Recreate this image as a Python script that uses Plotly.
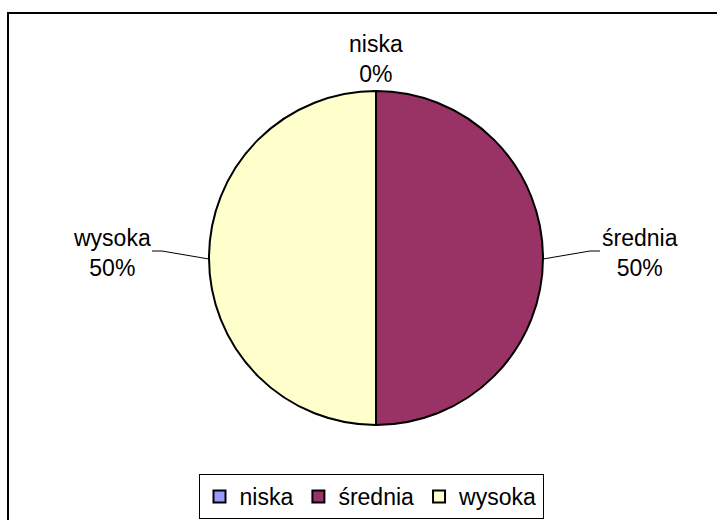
import math
import plotly.graph_objects as go

# ---- data ----
categories = ["niska", "średnia", "wysoka"]
values = [0, 50, 50]
colors = ["#9999FF", "#993366", "#FFFFCC"]

W, H = 717, 520
CX, CY, R = 376, 258, 167          # pie centre / radius in pixels
FONT = "Liberation Sans, Arial, sans-serif"

def px(x):
    return x / W

def py(y):
    return 1 - y / H

fig = go.Figure()
fig.add_trace(go.Pie(
    labels=categories, values=values, sort=False, direction="clockwise",
    rotation=0, textinfo="none", hoverinfo="label+percent",
    marker=dict(colors=colors, line=dict(color="black", width=2)),
    domain=dict(x=[px(CX - R), px(CX + R)], y=[py(CY + R), py(CY - R)]),
    showlegend=True,
))

# label placement (style)
label_extra = [32, 97, 97]
label_dy = [0, -5, -5]
leader = [False, True, True]

total = sum(values)
cum = 0
shapes = []
annotations = []
for lab, v, ex, dy, ld in zip(categories, values, label_extra, label_dy, leader):
    mid = (cum + v / 2) / total * 2 * math.pi
    cum += v
    sx, sy = math.sin(mid), -math.cos(mid)
    ex_x = CX + R * sx
    ex_y = CY + R * sy
    if abs(sx) < 0.5:
        lx, ly = CX + (R + ex) * sx, CY + (R + ex) * sy
    else:
        lx, ly = CX + (R + ex) * sx, CY + dy
    pct = round(v / total * 100)
    annotations.append(dict(
        x=px(lx), y=py(ly), xref="paper", yref="paper", showarrow=False,
        text=f"{lab}<br>{pct}%", font=dict(family=FONT, size=23, color="black"),
        align="center", xanchor="center", yanchor="middle"))
    if ld:
        bx = CX + (R + 47) * sx
        by = CY - 7
        tx = CX + (R + 57) * sx
        shapes.append(dict(type="path", xref="paper", yref="paper",
                           path=f"M {px(ex_x)} {py(ex_y + 1)} L {px(bx)} {py(by)} L {px(tx)} {py(by)}",
                           line=dict(color="black", width=1)))

# outer chart frame (extends beyond the visible page at right/bottom)
shapes.append(dict(type="rect", xref="paper", yref="paper",
                   x0=px(8), x1=1.05, y0=-0.05, y1=py(13),
                   line=dict(color="black", width=2), fillcolor="rgba(0,0,0,0)"))

fig.update_layout(
    width=W, height=H,
    margin=dict(l=0, r=0, t=0, b=0),
    paper_bgcolor="white", plot_bgcolor="white",
    font=dict(family=FONT, size=23, color="black"),
    showlegend=True,
    legend=dict(orientation="h", x=px(371), xanchor="center", y=py(474), yanchor="top",
                bordercolor="black", borderwidth=1, bgcolor="white",
                font=dict(family=FONT, size=23, color="black"),
                itemwidth=30, tracegroupgap=0),
    shapes=shapes,
    annotations=annotations,
)

fig.write_html("out.html")
